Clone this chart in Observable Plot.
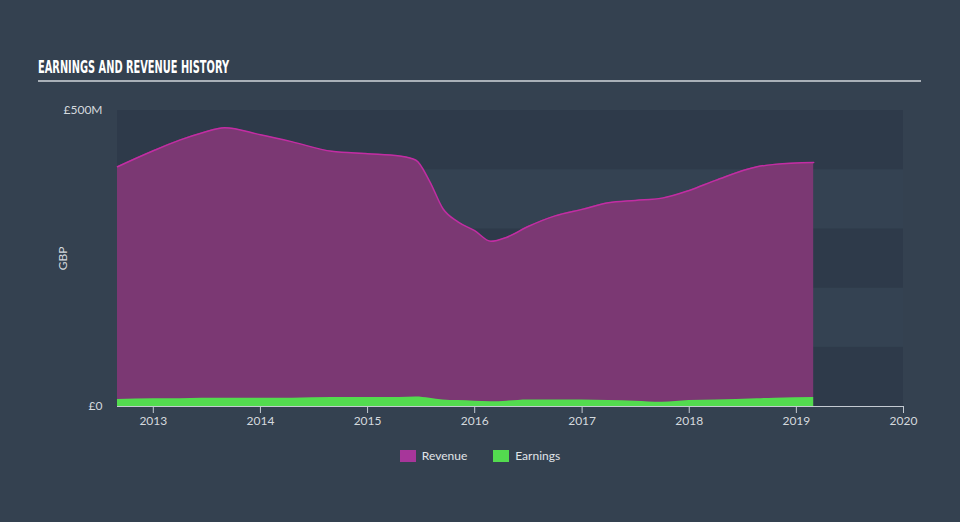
<!DOCTYPE html>
<html>
<head>
<meta charset="utf-8">
<script src="https://cdn.jsdelivr.net/npm/d3@7"></script>
<script src="https://cdn.jsdelivr.net/npm/@observablehq/plot@0.6"></script>
<style>
  html, body { margin: 0; padding: 0; background: #344150; }
  #wrap { position: relative; width: 960px; height: 522px; background: #344150; overflow: hidden; font-family: "Open Sans", sans-serif; }
  #title { position: absolute; left: 38px; top: 57px; color: #ffffff; font-family: "DejaVu Sans Condensed", "DejaVu Sans", sans-serif; font-weight: bold; font-size: 17px; letter-spacing: 0px; white-space: nowrap; transform-origin: 0 0; }
  #rule { position: absolute; left: 38px; top: 80px; width: 883px; height: 2px; background: #a9b0b8; }
  #chart { position: absolute; left: 0; top: 90px; }
  #legend { position: absolute; top: 448px; left: 0; width: 960px; display: flex; justify-content: center; font-size: 12px; color: #e0e4e8; font-family: "Lato", sans-serif; }
  .item { display: flex; align-items: center; margin: 0 13px; }
  .sw { width: 16px; height: 12px; margin-right: 6px; }
</style>
</head>
<body>
<div id="wrap">
  <div id="title">EARNINGS AND REVENUE HISTORY</div>
  <div id="rule"></div>
  <div id="chart"></div>
  <div id="legend">
    <div class="item"><div class="sw" style="background:#a7369a"></div>Revenue</div>
    <div class="item"><div class="sw" style="background:#53db4f"></div>Earnings</div>
  </div>
</div>
<script>
const dates = ["2012-09-01","2013-01-01","2013-04-01","2013-06-15","2013-09-01","2014-01-01","2014-04-20","2014-09-01","2015-01-01","2015-04-20","2015-06-15","2015-08-01","2015-09-15","2015-11-05","2016-01-01","2016-02-25","2016-04-20","2016-07-01","2016-10-01","2017-01-01","2017-04-01","2017-07-01","2017-10-01","2018-01-01","2018-04-01","2018-08-20","2018-10-20","2019-03-01"];
const revenue = [405,432,450,462,471,459,447,431,427,423,416,380,334,312,297,279,286,304,322,333,344,348,352,365,382,405,409,412];
const earnings = [12,13,13,14,14,14,14,15,15,15,16,14,11,10,9,8,9,11,11,11,10,9,7,10,11,13,14,15];
const bandStarts = [0,100,200,300,400];
const yTicks = [0,500];
const yTickLabels = ["£0","£500M"];
const xTickYears = [2013,2014,2015,2016,2017,2018,2019,2020];

const rows = dates.map((d,i) => ({date: new Date(d), revenue: revenue[i], earnings: earnings[i]}));
const bands = bandStarts.map((s,i) => ({y1: s, y2: s + 100, dark: i % 2 === 0}));

const plot = Plot.plot({
  width: 960,
  height: 340,
  marginLeft: 117,
  marginRight: 57,
  marginTop: 20,
  marginBottom: 24,
  style: {background: "transparent", color: "#d4d9de", fontSize: "12px", fontFamily: "Lato, sans-serif"},
  x: {type: "time", domain: [new Date("2012-09-01"), new Date("2020-01-01")], label: null},
  y: {domain: [0, 500], ticks: yTicks, tickFormat: (d) => yTickLabels[yTicks.indexOf(d)], tickSize: 0, tickPadding: 15, label: "GBP", labelAnchor: "center", labelOffset: 59, labelArrow: "none"},
  marks: [
    Plot.rect(bands, {y1: "y1", y2: "y2", fill: d => d.dark ? "#2e3a4a" : "#344252"}),
    Plot.areaY(rows, {x: "date", y: "revenue", fill: "#7b3873", curve: "monotone-x"}),
    Plot.lineY(rows, {x: "date", y: "revenue", stroke: "#c22da3", strokeWidth: 1.5, curve: "monotone-x"}),
    Plot.areaY(rows, {x: "date", y: "earnings", fill: "#53db4f", curve: "monotone-x"}),
    Plot.ruleY([0], {stroke: "#c4cad2", strokeWidth: 1}),
    Plot.axisX({ticks: xTickYears.map(y => new Date(`${y}-01-01`)), tickFormat: d3.utcFormat("%Y"), tickSize: 7, tickPadding: 3, stroke: "#c4cad2", color: "#d4d9de", label: null})
  ]
});
document.getElementById("chart").appendChild(plot);

const t = document.getElementById("title");
const w = t.getBoundingClientRect().width;
t.style.transform = `scaleX(${191 / w})`;
</script>
</body>
</html>
